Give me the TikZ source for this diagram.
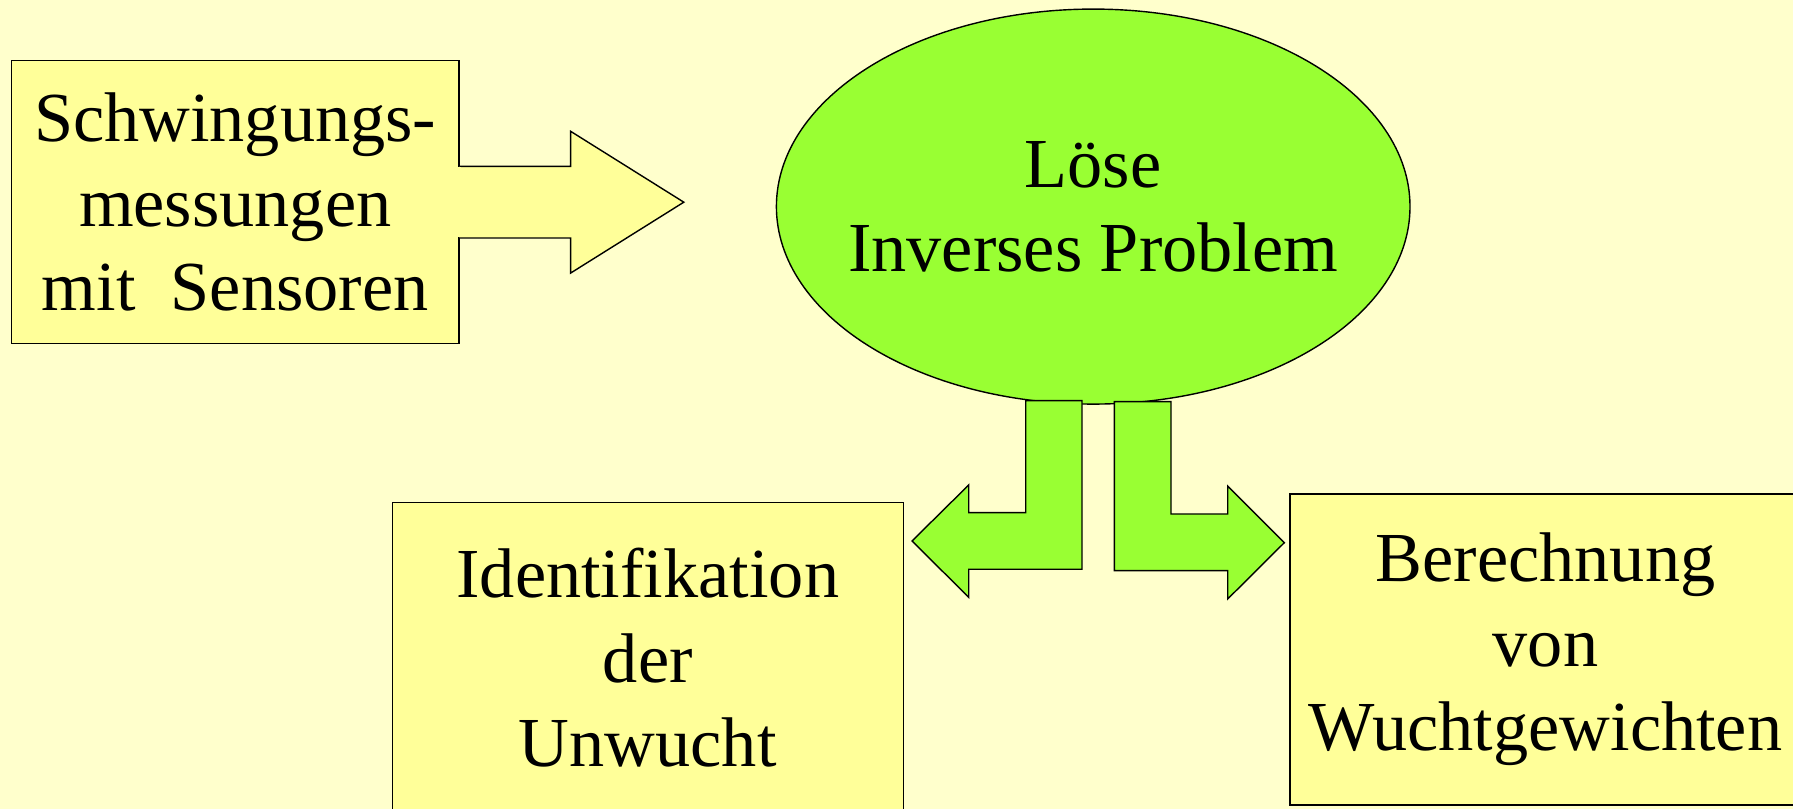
\documentclass[tikz,border=0pt]{standalone}
\usepackage{fontspec}
\setmainfont{Liberation Serif}
\usepackage{tikz}
\usetikzlibrary{shapes, backgrounds, calc}
\pgfdeclarelayer{background}
\pgfsetlayers{background,main}
\definecolor{paleYellow}{HTML}{FFFFCC}
\definecolor{boxYellow}{HTML}{FFFF99}
\definecolor{limeGreen}{HTML}{99FF33}

\begin{document}
\begin{tikzpicture}

    % Boxes and oval
    \tikzset{Bx/.style={draw, fill = boxYellow, align = center, inner sep = 0pt, font = \fontsize{20}{24}\selectfont}}
    \tikzset{Ov/.style={Bx, fill = limeGreen, shape = ellipse, inner xsep = -0.6cm, minimum width = 6.336cm, minimum height = 3.95cm}}

    % Block arrows
    \tikzset{Ay/.style={draw = black, fill = boxYellow, line join = miter}}
    \tikzset{Ag/.style={draw = black, fill = limeGreen, line join = miter}}

    \useasboundingbox (0, 0) rectangle (17.93, 8.09);
    \clip (0, 0) rectangle (17.93, 8.09);

    % Nodes
    \node (sensor) [Bx, minimum width = 4.476cm, minimum height = 2.832cm] at (2.352, 6.068) {Schwingungs-\\ messungen\\ mit~~Sensoren};
    \node (solve) [Ov] at (10.932, 6.024) {Löse\\ Inverses Problem};
    \node (ident) [Bx, minimum width = 5.11cm, minimum height = 3.11cm] at (6.478, 1.512) {Identifikation\\ der\\ Unwucht};
    \node (weights) [Bx, minimum width = 5.11cm, minimum height = 3.11cm] at (15.455, 1.595) {Berechnung\\ von\\ Wuchtgewichten};

    % Arrow tips
    \coordinate (sTip) at (6.838, 6.068);
    \coordinate (iTip) at (9.12, 2.68);
    \coordinate (wTip) at (12.843, 2.663);

    % Measurements to solver
    \path[Ay] ($(sensor.east) + (0, 0.358)$) -- (5.706, 6.426) -- (5.706, 6.777) -- (sTip)
        -- (5.706, 5.359) -- (5.706, 5.71) -- ($(sensor.east) + (0, -0.358)$);
    \fill[boxYellow] ($(sensor.east) + (-0.03, 0.35)$) rectangle ($(sensor.east) + (0.012, -0.35)$);

    % Solver to identification
    \path[Ag] (10.257, 4.083) -- (10.82, 4.083) -- (10.82, 2.397) -- (9.687, 2.397) -- (9.687, 2.117)
        -- (iTip) -- (9.687, 3.24) -- (9.687, 2.963) -- (10.257, 2.963) -- cycle;

    % Solver to weights
    \path[Ag] (11.143, 4.073) -- (11.71, 4.073) -- (11.71, 2.95) -- (12.277, 2.95) -- (12.277, 3.23)
        -- (wTip) -- (12.277, 2.10) -- (12.277, 2.383) -- (11.143, 2.383) -- cycle;

    % Background
    \begin{pgfonlayer}{background}
        \fill[paleYellow] (0, 0) rectangle (17.93, 8.09);
    \end{pgfonlayer}

\end{tikzpicture}
\end{document}
